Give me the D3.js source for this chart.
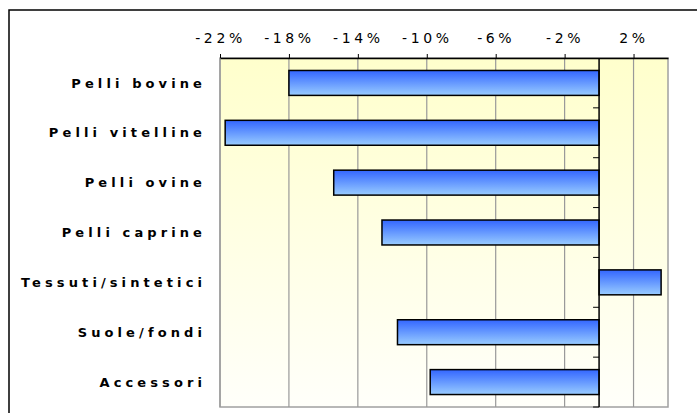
<!DOCTYPE html>
<html>
<head>
<meta charset="utf-8">
<script src="https://cdn.jsdelivr.net/npm/d3@7"></script>
<style>
  body { margin: 0; background: #fff; }
  svg { display: block; }
</style>
</head>
<body>
<svg id="chart" width="697" height="413"></svg>
<script>
// dati
const categories = ["Pelli bovine", "Pelli vitelline", "Pelli ovine", "Pelli caprine",
                    "Tessuti/sintetici", "Suole/fondi", "Accessori"];
const values = [-18.0, -21.7, -15.4, -12.6, 3.6, -11.7, -9.8];
const tickValues = [-22, -18, -14, -10, -6, -2, 2];

const svg = d3.select("#chart");
const pLeft = 220, pRight = 668, pTop = 58, pBottom = 407;

const x = d3.scaleLinear().domain([-22, 4]).range([pLeft, pRight]);
const y = d3.scaleBand().domain(categories).range([pTop, pBottom]).paddingInner(0.5).paddingOuter(0.25);

const defs = svg.append("defs");
const bg = defs.append("linearGradient").attr("id", "bg").attr("x1", 0).attr("y1", 0).attr("x2", 0).attr("y2", 1);
bg.append("stop").attr("offset", "0%").attr("stop-color", "#ffffcc");
bg.append("stop").attr("offset", "100%").attr("stop-color", "#fffffa");
const bar = defs.append("linearGradient").attr("id", "bar").attr("x1", 0).attr("y1", 0).attr("x2", 0).attr("y2", 1);
bar.append("stop").attr("offset", "0%").attr("stop-color", "#3366ff");
bar.append("stop").attr("offset", "100%").attr("stop-color", "#99ccff");

// cornice esterna
svg.append("rect")
  .attr("x", 9).attr("y", 10)
  .attr("width", 720).attr("height", 420)
  .attr("fill", "none").attr("stroke", "#000").attr("stroke-width", 1.5);

// area del grafico
svg.append("rect")
  .attr("x", pLeft).attr("y", pTop)
  .attr("width", pRight - pLeft).attr("height", pBottom - pTop)
  .attr("fill", "url(#bg)")
  .attr("stroke", "#a0a0a0").attr("stroke-width", 1.5);

// griglia
svg.append("g").selectAll("line")
  .data(tickValues)
  .join("line")
  .attr("x1", d => x(d)).attr("x2", d => x(d))
  .attr("y1", pTop).attr("y2", pBottom)
  .attr("stroke", "#999").attr("stroke-width", 1.2);

// barre
svg.append("g").selectAll("rect")
  .data(values)
  .join("rect")
  .attr("x", d => x(Math.min(0, d)))
  .attr("y", (d, i) => y(categories[i]))
  .attr("width", d => Math.abs(x(d) - x(0)))
  .attr("height", y.bandwidth())
  .attr("fill", "url(#bar)")
  .attr("stroke", "#000").attr("stroke-width", 1.5);

// asse dello zero con tacche
svg.append("line")
  .attr("x1", x(0)).attr("x2", x(0))
  .attr("y1", pTop).attr("y2", pBottom)
  .attr("stroke", "#000").attr("stroke-width", 1.5);
const step = (pBottom - pTop) / categories.length;
svg.append("g").selectAll("line")
  .data(d3.range(1, categories.length + 1))
  .join("line")
  .attr("x1", x(0) - 6).attr("x2", x(0))
  .attr("y1", i => pTop + i * step).attr("y2", i => pTop + i * step)
  .attr("stroke", "#000").attr("stroke-width", 1);

// asse superiore
const axis = svg.append("g")
  .attr("transform", `translate(0,${pTop})`)
  .call(d3.axisTop(x).tickValues(tickValues).tickSize(4).tickSizeOuter(0).tickFormat(d => d + "%"));
axis.select(".domain").attr("stroke", "#000").attr("stroke-width", 1.5);
axis.selectAll(".tick line").attr("stroke", "#000");
axis.selectAll(".tick text")
  .attr("y", -15)
  .attr("fill", "#000")
  .style("font-family", "DejaVu Sans, Verdana, sans-serif")
  .style("font-size", "14px")
  .style("letter-spacing", "3.6px");

// etichette categorie
svg.append("g").selectAll("text")
  .data(categories)
  .join("text")
  .attr("x", 206)
  .attr("y", d => y(d) + y.bandwidth() / 2)
  .attr("dy", "0.36em")
  .attr("text-anchor", "end")
  .attr("font-family", "DejaVu Sans, Verdana, sans-serif")
  .attr("font-weight", "bold")
  .attr("font-size", "13px")
  .attr("letter-spacing", "4.1px")
  .text(d => d);
</script>
</body>
</html>
